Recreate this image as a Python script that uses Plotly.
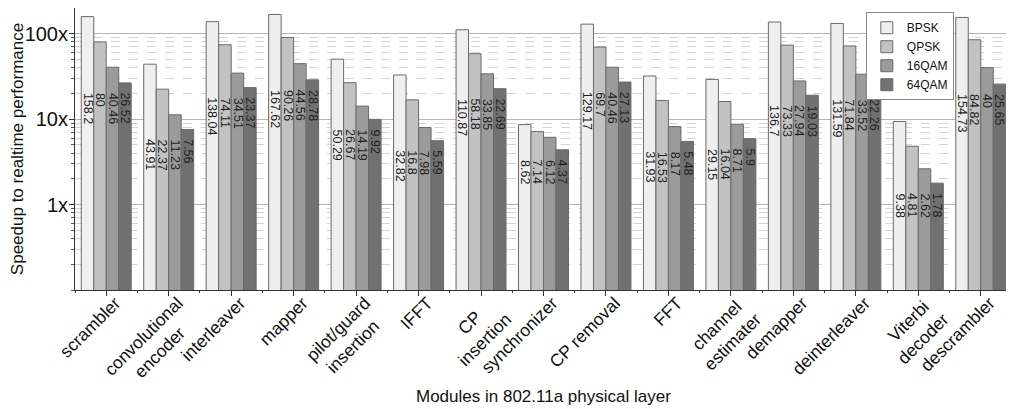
import math
import plotly.graph_objects as go

NB = "\u00a0"
modules = ["scrambler", "convolutional<br>encoder" + NB * 4, "interleaver", "mapper",
           "pilot/guard<br>insertion" + NB * 2, "IFFT", "CP" + NB * 4 + "<br>insertion", "synchronizer",
           "CP removal", "FFT", "channel" + NB + "<br>estimater", "demapper",
           "deinterleaver", "Viterbi" + NB + "<br>decoder", "descrambler"]

bpsk = [158.2, 43.91, 138.04, 167.62, 50.29, 32.82, 110.87, 8.62, 129.17, 31.93, 29.15, 136.7, 131.59, 9.38, 154.73]
qpsk = [80, 22.37, 74.11, 90.26, 26.67, 16.8, 58.18, 7.14, 69.7, 16.53, 16.04, 73.33, 71.84, 4.81, 84.82]
qam16 = [40.46, 11.23, 34.51, 44.56, 14.19, 7.98, 33.85, 6.12, 40.46, 8.17, 8.71, 27.94, 33.52, 2.62, 40]
qam64 = [26.52, 7.56, 23.37, 28.78, 9.92, 5.59, 22.69, 4.37, 27.13, 5.48, 5.9, 19.03, 22.26, 1.78, 25.65]

series_names = ["BPSK", "QPSK", "16QAM", "64QAM"]
series_values = [bpsk, qpsk, qam16, qam64]
series_colors = ["#efefef", "#c2c2c2", "#9b9b9b", "#717171"]

ytick_vals = [1, 10, 100]
ytick_text = ["1x", "10x", "100x"]

FONT = "Liberation Sans, Arial, sans-serif"
x_pos = list(range(len(modules)))

fig = go.Figure()
for name, vals, col in zip(series_names, series_values, series_colors):
    fig.add_trace(go.Bar(
        x=x_pos, y=vals, name=name,
        marker=dict(color=col, line=dict(color="#6a6a6a", width=1)),
    ))

# value labels: rotated, aligned within each group just below lowest bar top
n = len(series_values)
width = 0.8 / n
annotations = []
for i in range(len(modules)):
    group_min = min(s[i] for s in series_values)
    for k, s in enumerate(series_values):
        xc = i - 0.4 + width * (k + 0.5)
        annotations.append(dict(
            x=xc, y=math.log10(group_min), xref="x", yref="y",
            text=f"{s[i]:g}", textangle=90, showarrow=False,
            xanchor="center", yanchor="top", yshift=-8,
            font=dict(family=FONT, size=12.5, color="#222222"),
        ))

annotations.append(dict(
    x=0.5, y=-0.379, xref="paper", yref="paper",
    text="Modules in 802.11a physical layer", showarrow=False,
    xanchor="center", yanchor="middle",
    font=dict(family=FONT, size=17, color="#111111"),
))

fig.update_layout(
    width=1006, height=401,
    margin=dict(l=67, r=2, t=0, b=119, autoexpand=False),
    paper_bgcolor="white", plot_bgcolor="white",
    barmode="group", bargap=0.2, bargroupgap=0,
    font=dict(family=FONT, size=15, color="#111111"),
    annotations=annotations,
    legend=dict(
        x=0.844, y=0.985, xanchor="left", yanchor="top",
        bgcolor="white", bordercolor="#888888", borderwidth=1,
        font=dict(family=FONT, size=12, color="#111111"),
        tracegroupgap=0, itemwidth=30,
    ),
    showlegend=True,
)

fig.update_xaxes(
    range=[-0.5, len(modules) - 0.5],
    tickvals=x_pos, ticktext=modules, tickangle=-45,
    tickfont=dict(family=FONT, size=17.5, color="#111111"),
    ticks="outside", ticklen=5, tickcolor="#333333",
    ticklabelstandoff=-10, ticklabelshift=9,
    minor=dict(tickvals=[i + 0.5 for i in range(-1, len(modules))], ticks="outside", ticklen=2, tickcolor="#333333"),
    showline=True, linecolor="#333333", linewidth=1,
    showgrid=False, zeroline=False, automargin=False,
)

fig.update_yaxes(
    type="log", range=[-1, 2.3],
    tickvals=ytick_vals, ticktext=ytick_text,
    tickfont=dict(family=FONT, size=20, color="#111111"),
    ticks="outside", ticklen=5, tickcolor="#333333",
    ticklabelstandoff=-3,
    showline=True, linecolor="#333333", linewidth=1,
    showgrid=True, gridcolor="#b5b5b5", gridwidth=1,
    minor=dict(dtick="D1", ticks="outside", ticklen=3, tickcolor="#555555",
               showgrid=True, gridcolor="#d4d4d4", griddash="dash", gridwidth=1),
    zeroline=False, automargin=False,
    title=dict(text="Speedup to realtime performance", font=dict(family=FONT, size=17), standoff=2),
)

fig.write_html("out.html")
